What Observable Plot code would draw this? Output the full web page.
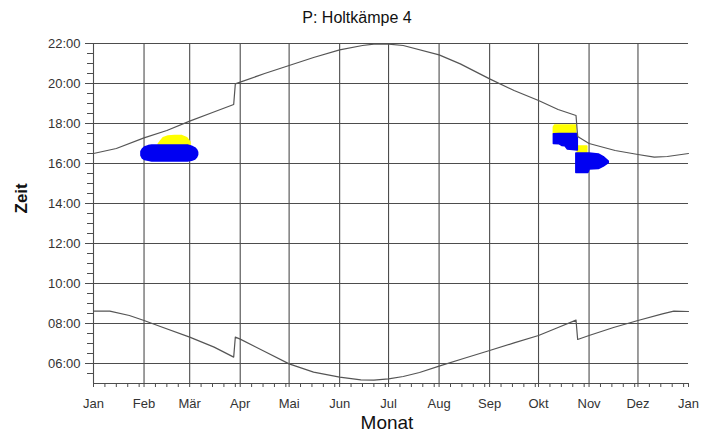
<!DOCTYPE html>
<html><head><meta charset="utf-8">
<script src="https://cdn.jsdelivr.net/npm/d3@7"></script>
<script src="https://cdn.jsdelivr.net/npm/@observablehq/plot@0.6"></script>
<style>
body{margin:0;background:#fff;}
#wrap{position:relative;width:716px;height:441px;font-family:"Liberation Sans",Arial,sans-serif;}
#title{position:absolute;top:8px;left:0;width:714px;text-align:center;font-size:16px;color:#111;line-height:20px;}
#chart{position:absolute;top:0;left:0;}
</style></head><body>
<div id="wrap"><div id="chart"></div><div id="title">P: Holtkämpe 4</div></div>
<script>
// Month axis (day of year)
const monthStarts = [0, 31, 59, 90, 120, 151, 181, 212, 243, 273, 304, 334, 365];
const monthLabels = ["Jan", "Feb", "Mär", "Apr", "Mai", "Jun", "Jul", "Aug", "Sep", "Okt", "Nov", "Dez", "Jan"];
const minorDayTicks = [7, 14, 21, 28, 38, 45, 52, 66, 73, 80, 87, 97, 104, 111, 118, 127, 134, 141, 148,
  158, 165, 172, 179, 188, 195, 202, 209, 219, 226, 233, 240, 250, 257, 264, 271, 280, 287, 294, 301,
  311, 318, 325, 332, 341, 348, 355, 362];
// Time axis (hours)
const hourTicks = [6, 8, 10, 12, 14, 16, 18, 20, 22];
const hourLabels = ["06:00", "08:00", "10:00", "12:00", "14:00", "16:00", "18:00", "20:00", "22:00"];
const minorHourTicks = [5.5, 6.5, 7, 7.5, 8.5, 9, 9.5, 10.5, 11, 11.5, 12.5, 13, 13.5, 14.5, 15, 15.5,
  16.5, 17, 17.5, 18.5, 19, 19.5, 20.5, 21, 21.5];

// Sunset
const sunsetDay  = [0, 14, 31, 45, 59, 73, 86, 87, 90, 105, 120, 135, 151, 165, 172, 181, 190, 212, 225, 243, 258, 273, 285, 296, 297, 304, 320, 334, 344, 352, 365];
const sunsetHour = [16.5, 16.75, 17.28, 17.65, 18.12, 18.55, 18.95, 19.98, 20.07, 20.5, 20.9, 21.3, 21.68, 21.9, 21.97, 21.97, 21.9, 21.43, 20.98, 20.23, 19.65, 19.15, 18.7, 18.4, 17.35, 17.0, 16.65, 16.45, 16.32, 16.35, 16.5];
// Sunrise
const sunriseDay  = [0, 10, 22, 31, 41, 59, 74, 86, 87, 90, 105, 120, 135, 151, 164, 172, 181, 190, 200, 212, 227, 243, 258, 273, 285, 296, 297, 304, 319, 334, 349, 356, 365];
const sunriseHour = [8.62, 8.62, 8.4, 8.15, 7.85, 7.32, 6.82, 6.32, 7.32, 7.22, 6.6, 5.98, 5.57, 5.32, 5.18, 5.17, 5.23, 5.35, 5.55, 5.87, 6.25, 6.65, 7.03, 7.4, 7.8, 8.17, 7.2, 7.4, 7.8, 8.15, 8.48, 8.62, 8.6];

// Shadow periods (blue / yellow) : day, start hour, end hour
const febYellowDay = [40, 41.5, 43, 46, 50, 54.5, 57.5, 59.5];
const febYellowLo  = [16.85, 16.85, 16.85, 16.85, 16.85, 16.85, 16.85, 16.85];
const febYellowHi  = [16.95, 17.12, 17.27, 17.35, 17.38, 17.37, 17.27, 17.05];
const febBlueDay = [29.4, 30.2, 31.5, 33.9, 36, 58, 60.5, 62.5, 63.6, 64.2];
const febBlueLo  = [16.38, 16.25, 16.18, 16.14, 16.1, 16.1, 16.14, 16.2, 16.3, 16.42];
const febBlueHi  = [16.58, 16.7, 16.8, 16.87, 16.9, 16.9, 16.84, 16.76, 16.66, 16.55];
const oktYellowDay = [282.4, 283.2, 296.1];
const oktYellowLo  = [17.45, 17.45, 17.45];
const oktYellowHi  = [17.8, 17.9, 17.9];
const oktBlueDay = [282.4, 286, 287.5, 289.5, 291, 297.1];
const oktBlueLo  = [16.98, 16.96, 16.88, 16.86, 16.7, 16.65];
const oktBlueHi  = [17.46, 17.47, 17.47, 17.47, 17.47, 17.47];
const novYellowDay = [297.1, 302.9];
const novYellowLo  = [16.45, 16.45];
const novYellowHi  = [16.85, 16.85];
const novBlueDay = [296.2, 303.6, 304.4, 310, 313, 316.1];
const novBlueLo  = [15.52, 15.52, 15.7, 15.72, 15.84, 16.02];
const novBlueHi  = [16.5, 16.5, 16.5, 16.45, 16.32, 16.1];

const toRows = (days, a, b) => days.map((d, i) => ({d, lo: a[i], hi: b[i]}));
const toPts = (days, h) => days.map((d, i) => ({d, h: h[i]}));

const yellow = "#ffff00", blue = "#0000f2", gridC = "#4d4d4d", lineC = "#555";
const blob = (rows, c) => Plot.areaY(rows, {x: "d", y1: "lo", y2: "hi", fill: c, stroke: c, strokeWidth: 1.5, strokeLinejoin: "round"});

const chart = Plot.plot({
  width: 716, height: 441,
  marginLeft: 93, marginRight: 28, marginTop: 43, marginBottom: 58,
  style: {fontFamily: "'Liberation Sans', Arial, sans-serif", fontSize: "13px", color: "#333", background: "white"},
  x: {type: "linear", domain: [0, 365]},
  y: {type: "linear", domain: [5, 22]},
  marks: [
    Plot.ruleX(monthStarts.slice(1, 12), {stroke: gridC, strokeWidth: 1.1}),
    Plot.ruleY(hourTicks, {stroke: gridC, strokeWidth: 1.1}),
    blob(toRows(febYellowDay, febYellowLo, febYellowHi), yellow),
    blob(toRows(febBlueDay, febBlueLo, febBlueHi), blue),
    blob(toRows(oktYellowDay, oktYellowLo, oktYellowHi), yellow),
    blob(toRows(novYellowDay, novYellowLo, novYellowHi), yellow),
    blob(toRows(oktBlueDay, oktBlueLo, oktBlueHi), blue),
    blob(toRows(novBlueDay, novBlueLo, novBlueHi), blue),
    Plot.line(toPts(sunsetDay, sunsetHour), {x: "d", y: "h", stroke: lineC, strokeWidth: 1.2}),
    Plot.line(toPts(sunriseDay, sunriseHour), {x: "d", y: "h", stroke: lineC, strokeWidth: 1.2}),
    Plot.ruleX([0], {stroke: gridC, strokeWidth: 1.1}),
    Plot.ruleY([5], {stroke: gridC, strokeWidth: 1.1}),
    Plot.axisY(hourTicks, {anchor: "left", tickSize: 8, tickPadding: 5, stroke: gridC,
      tickFormat: d => hourLabels[hourTicks.indexOf(d)], fontSize: 13, label: null}),
    Plot.axisY(minorHourTicks, {anchor: "left", tickSize: 6, fill: "none", stroke: gridC, label: null}),
    Plot.axisX(monthStarts, {anchor: "bottom", tickSize: 4, tickPadding: 11, stroke: gridC,
      tickFormat: d => monthLabels[monthStarts.indexOf(d)], fontSize: 13, label: null}),
    Plot.axisX(minorDayTicks, {anchor: "bottom", tickSize: 4, fill: "none", stroke: gridC, label: null}),
    Plot.text(["Zeit"], {frameAnchor: "left", dx: -72, rotate: -90, fontSize: 17, fontWeight: "bold", fill: "#111"}),
    Plot.text(["Monat"], {frameAnchor: "bottom", dy: 45, dx: -4, fontSize: 19, fill: "#111"})
  ]
});
document.getElementById("chart").appendChild(chart);
</script>
</body></html>
